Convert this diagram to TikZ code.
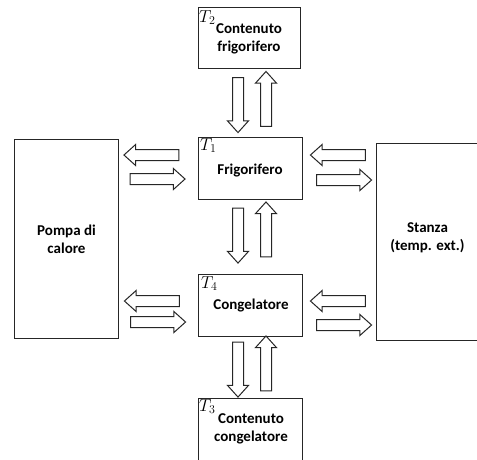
\documentclass[tikz,border=0pt]{standalone}
\usepackage{fontspec}
\setmainfont{Carlito}
\usetikzlibrary{shapes.arrows,calc}
\begin{document}
\begin{tikzpicture}[x=1pt,y=-1pt,
  box/.style={draw=black!85, line width=1pt, inner sep=0pt, anchor=north west},
  lbl/.style={font=\bfseries\fontsize{15}{18}\selectfont, align=center, inner sep=0pt},
  tvar/.style={font=\fontsize{18}{18}\selectfont, inner sep=0pt, anchor=north west},
  blk/.style={single arrow, draw=black!85, line width=1pt, minimum height=55pt,
    minimum width=20pt, inner sep=5pt, single arrow head extend=5pt,
    single arrow tip angle=84},
  goleft/.style={blk, shape border rotate=180},
  goright/.style={blk, shape border rotate=0},
  goup/.style={blk, shape border rotate=90},
  godown/.style={blk, shape border rotate=270}]
\useasboundingbox (0,0) rectangle (477,459);
\clip (0,0) rectangle (477,459);
% boxes
\node[box, minimum width=102pt, minimum height=61pt] (t2) at (198,7) {};
\node[box, minimum width=104pt, minimum height=62pt] (t1) at (198,137) {};
\node[box, minimum width=104pt, minimum height=62pt] (t4) at (198,274) {};
\node[box, minimum width=104pt, minimum height=72pt] (t3) at (198,398) {};
\node[box, minimum width=104pt, minimum height=199pt] (hp) at (14,139) {};
\node[box, minimum width=106pt, minimum height=197pt] (room) at (376,143) {};
% labels
\node[tvar] (lt2) at (199,10) {$T_2$};
\node[lbl] (x2) at (249,39) {Contenuto\\frigorifero};
\node[tvar] (lt1) at (200,138) {$T_1$};
\node[lbl] (x1) at (250,170.5) {Frigorifero};
\node[tvar] (lt4) at (201,276) {$T_4$};
\node[lbl] (x4) at (251,306) {Congelatore};
\node[tvar] (lt3) at (199,399) {$T_3$};
\node[lbl] (x3) at (251,428.5) {Contenuto\\congelatore};
\node[lbl] (xhp) at (hp.center) {Pompa di\\calore};
\node[lbl] (xroom) at (427.5,238) {Stanza\\(temp. ext.)};
% vertical arrows
\node[godown] (a1) at (238,102) {};
\node[goup]   (a2) at (266,102) {};
\node[godown] (a3) at (238,232.5) {};
\node[goup]   (a4) at (266,232.5) {};
\node[godown] (a5) at (238,366.5) {};
\node[goup]   (a6) at (266,366.5) {};
% horizontal arrows, left
\node[goleft]  (b1) at (154.5,155) {};
\node[goright] (b2) at (154.5,179) {};
\node[goleft]  (b3) at (155,301) {};
\node[goright] (b4) at (155,322) {};
% horizontal arrows, right
\node[goleft]  (c1) at (341,155) {};
\node[goright] (c2) at (341,180) {};
\node[goleft]  (c3) at (341,301) {};
\node[goright] (c4) at (341,325) {};
\end{tikzpicture}
\end{document}
